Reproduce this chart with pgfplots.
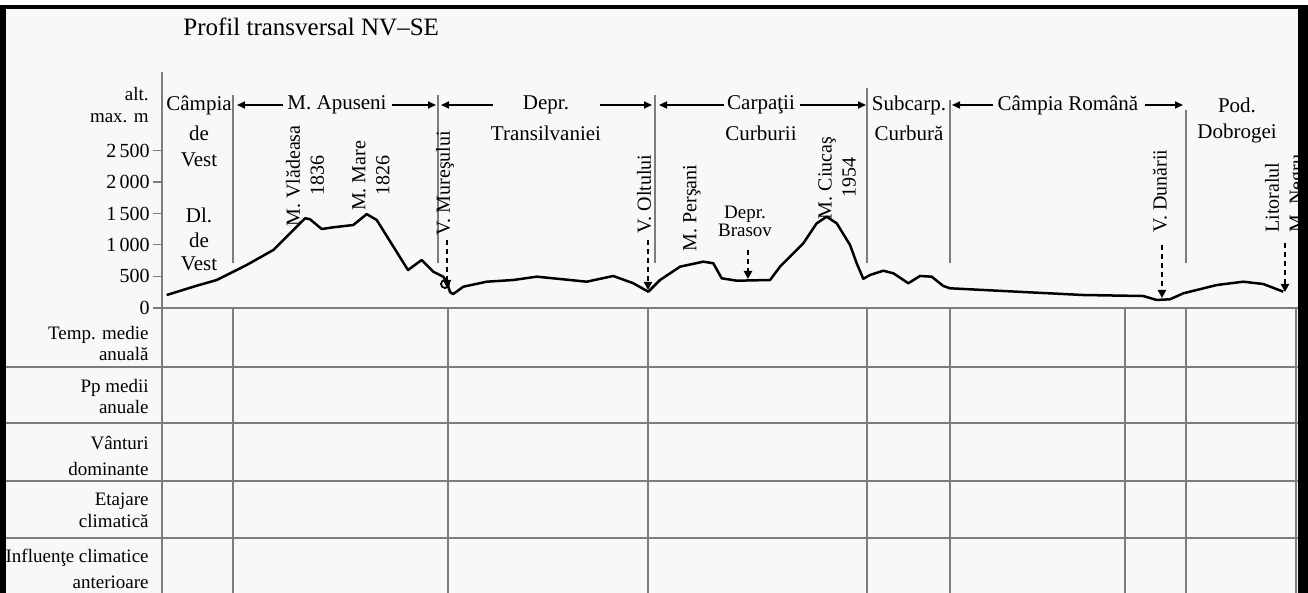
\documentclass[border=0pt]{standalone}
\usepackage{pgfplots}
\pgfplotsset{compat=1.18}
\usepackage{fontspec}
\setmainfont{Liberation Serif}
\usetikzlibrary{arrows.meta}
\definecolor{bg}{RGB}{248,248,248}
\definecolor{lg}{RGB}{125,125,125}
\begin{document}
\begin{tikzpicture}[x=0.5pt,y=-0.5pt]
\useasboundingbox (0,0) rectangle (1308,593);
\clip (0,0) rectangle (1308,593);
\fill[white] (0,0) rectangle (1308,593);
\fill[bg] (0,5) rectangle (1308,593);
% grid lines
\begin{scope}[draw=lg, line width=0.6pt]
\draw (162,72) -- (162,593);
\draw (153,308) -- (1298,308);
\foreach \yy in {367,423,481,538} {\draw (6,\yy) -- (1298,\yy);}
\foreach \xx/\tt in {233/95,438/95,655/95,867/88,950/100,1186/110} {\draw (\xx,\tt) -- (\xx,263);}
\foreach \xx in {233,448,648,867,950,1125,1186,1296} {\draw (\xx,308) -- (\xx,593);}
\end{scope}

\begin{axis}[at={(81pt,-153.85pt)}, anchor=south west, scale only axis,
  width=568pt, height=78.5pt, xmin=162, xmax=1298, ymin=0, ymax=2500,
  clip=false, axis x line=none, axis y line*=left, axis line style={draw=none},
  ytick={0,500,1000,1500,2000,2500},
  yticklabels={0,500,1\,000,1\,500,2\,000,2\,500},
  tick align=outside, major tick length=4.5pt,
  ytick style={draw=lg,line width=0.6pt},
  yticklabel style={font=\fontsize{10}{12}\selectfont, inner sep=1.5pt},
  /pgf/number format/assume math mode=true]
\addplot[black, line width=1.25pt, line join=round, mark=none] coordinates {
(166.7,202) (196.7,350) (216.7,441) (233.3,573) (246.7,680) (273.3,919)
(290,1185) (305,1424) (310,1408) (321.7,1253) (333.3,1280) (353.3,1317)
(366.7,1490) (376.7,1397) (408,600) (421.7,760) (433.3,573) (443.3,494)
(447,400) (450,250) (453,215) (463.3,334) (486.7,414) (513.3,441) (536.7,494)
(560,457) (586.7,414) (613.3,505) (633.3,389) (648.3,255) (660,441)
(680,653) (703.3,733) (713.3,707) (721.7,468) (736.7,430) (770,441)
(780,653) (803.3,1025) (816.7,1344) (826.7,1449) (836.7,1344) (850,1000)
(856.7,707) (863.3,460) (870,521) (883.3,589) (893.3,548) (908.3,389)
(920,505) (931.7,494) (943.3,346) (950,309) (1016.7,255) (1083.3,202)
(1143.3,186) (1156.7,123) (1170,134) (1183.3,229) (1216.7,361)
(1243.3,414) (1263.3,377) (1283.3,255)
};
\end{axis}

% title
\node[font=\fontsize{12.5}{14}\selectfont, anchor=west, inner sep=0] at (183,27) {Profil transversal NV–SE};

% region labels
\begin{scope}[font=\fontsize{10.5}{12}\selectfont, inner sep=0]
\node at (199,105) {Câmpia};
\node at (199,133) {de};
\node at (199,160) {Vest};
\node at (199,215) {Dl.};
\node at (199,240) {de};
\node at (199,264) {Vest};
\node at (337,105) {M. Apuseni};
\node at (546,105) {Depr.};
\node at (546,133) {Transilvaniei};
\node at (761,105) {Carpaţii};
\node at (761,133) {Curburii};
\node at (909,105) {Subcarp.};
\node at (909,133) {Curbură};
\node at (1068,105) {Câmpia Română};
\node at (1237,105) {Pod.};
\node at (1237,133) {Dobrogei};
\end{scope}

% band arrows
\begin{scope}[line width=0.8pt, -{Triangle[length=4pt,width=3.5pt]}]
\draw (283,105) -- (237,105);
\draw (392,105) -- (436,105);
\draw (493,105) -- (441,105);
\draw (600,105) -- (652,105);
\draw (724,105) -- (659,105);
\draw (800,105) -- (866,105);
\draw (993,105) -- (952,105);
\draw (1145,105) -- (1183,105);
\end{scope}

% rotated labels
\begin{scope}[font=\fontsize{10}{12}\selectfont, inner sep=0]
\node[rotate=90, align=center] at (305,176) {M. Vlădeasa\\1836};
\node[rotate=90, align=center] at (371,176) {M. Mare\\1826};
\node[rotate=90] at (445,183) {V. Mureşului};
\node[rotate=90] at (644,194) {V. Oltului};
\node[rotate=90] at (692,208) {M. Perşani};
\node[rotate=90, align=center] at (837,178) {M. Ciucaş\\1954};
\node[rotate=90] at (1160,191) {V. Dunării};
\node[rotate=90, anchor=west, align=left] at (1286,233) {Litoralul\\M. Negru};
\end{scope}
\node[font=\fontsize{9.5}{9}\selectfont, align=center, inner sep=0] at (745,221) {Depr.\\Brasov};

% dashed arrows
\begin{scope}[line width=1.1pt, dash pattern=on 2.5pt off 2pt, -{Triangle[length=4pt,width=4pt]}]
\draw (447,240) -- (447,288);
\draw (648,240) -- (648,290);
\draw (748,250) -- (748,279);
\draw (1162,245) -- (1162,298);
\draw (1285,243) -- (1285,292);
\end{scope}
\draw[line width=0.9pt] (445,284) circle (4);

% row labels
\begin{scope}[font=\fontsize{9.5}{11}\selectfont, inner sep=0]
\node[anchor=east] at (149,94) {alt.};
\node[anchor=east] at (149,118) {max. m};
\node[anchor=east] at (149,335) {Temp. medie};
\node[anchor=east] at (149,354) {anuală};
\node[anchor=east] at (149,388) {Pp medii};
\node[anchor=east] at (149,407) {anuale};
\node[anchor=east] at (149,443) {Vânturi};
\node[anchor=east] at (149,469) {dominante};
\node[anchor=east] at (149,501) {Etajare};
\node[anchor=east] at (149,521) {climatică};
\node[anchor=east] at (149,558) {Influenţe climatice};
\node[anchor=east] at (149,582) {anterioare};
\end{scope}

% border
\fill[black] (0,5) rectangle (6,593);
\fill[black] (0,5) rectangle (1308,9);
\fill[black] (1298,5) rectangle (1308,593);
\end{tikzpicture}
\end{document}
